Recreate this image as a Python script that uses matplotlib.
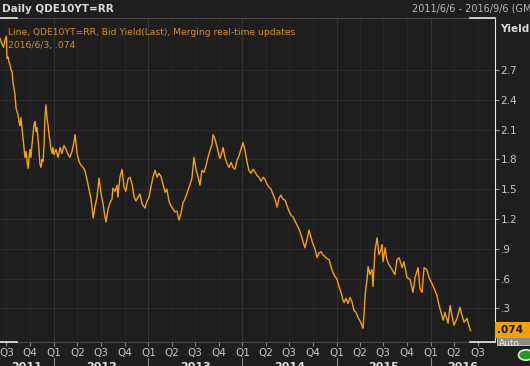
import matplotlib
matplotlib.use("Agg")
import matplotlib.pyplot as plt
import matplotlib.transforms as mtransforms
from matplotlib.patches import Rectangle, Circle
from matplotlib.lines import Line2D
import pandas as pd

# values (German 10y bid yield, daily chart)
dates = [
    "2011-06-06", "2011-06-14", "2011-06-20", "2011-06-25", "2011-07-01", "2011-07-03",
    "2011-07-07", "2011-07-11", "2011-07-15", "2011-07-19", "2011-07-23", "2011-07-26",
    "2011-07-30", "2011-08-03", "2011-08-07", "2011-08-11", "2011-08-15", "2011-08-19",
    "2011-08-23", "2011-08-26", "2011-08-30", "2011-09-03", "2011-09-07", "2011-09-11",
    "2011-09-15", "2011-09-19", "2011-09-23", "2011-09-26", "2011-09-30", "2011-10-04",
    "2011-10-08", "2011-10-12", "2011-10-16", "2011-10-20", "2011-10-24", "2011-10-27",
    "2011-10-31", "2011-11-04", "2011-11-08", "2011-11-12", "2011-11-16", "2011-11-20",
    "2011-11-24", "2011-11-27", "2011-12-01", "2011-12-05", "2011-12-09", "2011-12-13",
    "2011-12-17", "2011-12-21", "2011-12-25", "2011-12-28", "2012-01-01",
    "2012-01-09", "2012-01-17", "2012-01-25", "2012-02-01", "2012-02-09", "2012-02-17",
    "2012-02-25", "2012-03-03", "2012-03-11", "2012-03-19", "2012-03-23", "2012-03-31",
    "2012-04-07", "2012-04-15", "2012-04-23", "2012-05-01", "2012-05-08", "2012-05-16",
    "2012-05-24", "2012-06-01", "2012-06-08", "2012-06-16", "2012-06-24", "2012-07-02",
    "2012-07-09", "2012-07-17", "2012-07-21", "2012-07-29", "2012-08-05", "2012-08-13",
    "2012-08-17", "2012-08-25", "2012-09-02", "2012-09-05", "2012-09-13", "2012-09-21",
    "2012-09-29", "2012-10-06", "2012-10-14", "2012-10-22", "2012-10-30", "2012-11-07",
    "2012-11-14", "2012-11-22", "2012-11-30", "2012-12-08", "2012-12-19", "2012-12-27",
    "2013-01-04", "2013-01-11", "2013-01-19", "2013-01-27", "2013-02-04", "2013-02-11",
    "2013-02-19", "2013-02-27", "2013-03-07", "2013-03-14", "2013-03-22", "2013-03-30",
    "2013-04-07", "2013-04-14", "2013-04-22", "2013-04-30", "2013-05-08", "2013-05-15",
    "2013-05-23", "2013-06-04", "2013-06-12", "2013-06-19", "2013-06-27", "2013-07-05",
    "2013-07-13", "2013-07-20", "2013-07-28", "2013-08-05", "2013-08-13", "2013-08-20",
    "2013-08-28", "2013-09-05", "2013-09-09", "2013-09-17", "2013-09-24", "2013-10-02",
    "2013-10-06", "2013-10-14", "2013-10-18", "2013-10-25", "2013-11-02", "2013-11-10",
    "2013-11-18", "2013-11-25", "2013-12-03", "2013-12-11", "2013-12-19", "2013-12-26",
    "2014-01-03", "2014-01-11", "2014-01-19", "2014-01-26", "2014-02-03", "2014-02-11",
    "2014-02-19", "2014-02-26", "2014-03-06", "2014-03-14", "2014-03-22", "2014-03-29",
    "2014-04-06", "2014-04-14", "2014-04-22", "2014-04-29", "2014-05-07", "2014-05-15",
    "2014-05-23", "2014-05-30", "2014-06-07", "2014-06-15", "2014-06-23", "2014-06-30",
    "2014-07-08", "2014-07-16", "2014-07-24", "2014-07-31", "2014-08-08", "2014-08-16",
    "2014-08-24", "2014-08-31", "2014-09-08", "2014-09-16", "2014-09-24", "2014-10-01",
    "2014-10-09", "2014-10-17", "2014-10-25", "2014-11-02", "2014-11-09", "2014-11-17",
    "2014-11-25", "2014-12-03", "2014-12-10", "2014-12-18", "2014-12-26",
    "2015-01-03", "2015-01-10", "2015-01-18", "2015-01-26", "2015-01-30", "2015-02-06",
    "2015-02-14", "2015-02-22", "2015-03-02", "2015-03-09", "2015-03-17", "2015-03-25",
    "2015-04-02", "2015-04-09", "2015-04-13", "2015-04-17", "2015-04-21", "2015-04-25",
    "2015-04-29", "2015-05-03", "2015-05-10", "2015-05-18", "2015-05-22", "2015-05-30",
    "2015-06-07", "2015-06-14", "2015-06-22", "2015-06-26", "2015-06-30", "2015-07-08",
    "2015-07-15", "2015-07-23", "2015-07-31", "2015-08-08", "2015-08-15", "2015-08-23",
    "2015-08-31", "2015-09-12", "2015-09-19", "2015-10-01", "2015-10-13", "2015-10-24",
    "2015-11-01", "2015-11-13", "2015-11-20", "2015-11-28", "2015-12-06", "2015-12-17",
    "2015-12-25",
    "2016-01-02", "2016-01-14", "2016-01-25", "2016-02-02", "2016-02-10", "2016-02-14",
    "2016-02-18", "2016-02-25", "2016-03-08", "2016-03-16", "2016-03-23", "2016-03-31",
    "2016-04-12", "2016-04-23", "2016-05-01", "2016-05-09", "2016-05-21", "2016-05-24",
    "2016-06-03",
]
yields = [
    3.02, 2.96, 2.93, 3.00, 3.04, 2.82,
    2.83, 2.78, 2.75, 2.70, 2.68, 2.58,
    2.52, 2.45, 2.32, 2.28, 2.25, 2.17,
    2.14, 2.22, 2.12, 2.02, 1.92, 1.82,
    1.88, 1.78, 1.71, 1.80, 1.90, 1.82,
    1.95, 2.05, 2.15, 2.18, 2.08, 2.12,
    2.02, 1.90, 1.75, 1.72, 1.80, 1.78,
    1.95, 2.20, 2.35, 2.22, 2.15, 2.05,
    1.98, 1.90, 1.86, 1.92, 1.85,
    1.90, 1.82, 1.92, 1.86, 1.94, 1.90,
    1.85, 1.82, 1.88, 1.98, 2.05, 1.86,
    1.78, 1.74, 1.72, 1.68, 1.60, 1.50,
    1.40, 1.21, 1.32, 1.42, 1.61, 1.45,
    1.36, 1.22, 1.17, 1.30, 1.36, 1.40,
    1.51, 1.48, 1.54, 1.42, 1.62, 1.70,
    1.52, 1.48, 1.60, 1.62, 1.55, 1.42,
    1.38, 1.42, 1.45, 1.35, 1.31, 1.38,
    1.42, 1.52, 1.62, 1.69, 1.62, 1.66,
    1.63, 1.55, 1.47, 1.50, 1.38, 1.33,
    1.30, 1.27, 1.28, 1.19, 1.26, 1.36,
    1.40, 1.49, 1.55, 1.61, 1.82, 1.70,
    1.62, 1.54, 1.69, 1.67, 1.74, 1.82,
    1.89, 1.95, 2.05, 2.00, 1.93, 1.84,
    1.81, 1.88, 1.92, 1.82, 1.76, 1.72,
    1.77, 1.72, 1.70, 1.79, 1.84, 1.90,
    1.97, 1.89, 1.77, 1.69, 1.66, 1.70,
    1.67, 1.64, 1.62, 1.58, 1.62, 1.60,
    1.55, 1.52, 1.50, 1.45, 1.40, 1.32,
    1.41, 1.44, 1.40, 1.39, 1.33, 1.28,
    1.24, 1.22, 1.18, 1.14, 1.10, 1.04,
    0.97, 0.91, 0.99, 1.09, 1.01, 0.95,
    0.90, 0.81, 0.86, 0.87, 0.84, 0.82,
    0.80, 0.79, 0.72, 0.66, 0.62,
    0.59, 0.52, 0.46, 0.38, 0.36, 0.40,
    0.35, 0.41, 0.36, 0.28, 0.26, 0.21,
    0.17, 0.13, 0.10, 0.23, 0.41, 0.52,
    0.59, 0.72, 0.64, 0.69, 0.52, 0.89,
    1.01, 0.84, 0.89, 0.94, 0.77, 0.91,
    0.79, 0.74, 0.71, 0.67, 0.64, 0.79,
    0.81, 0.71, 0.77, 0.61, 0.59, 0.46,
    0.61, 0.71, 0.50, 0.46, 0.71, 0.69,
    0.61,
    0.57, 0.50, 0.43, 0.33, 0.26, 0.22,
    0.18, 0.26, 0.15, 0.33, 0.23, 0.13,
    0.20, 0.31, 0.23, 0.16, 0.20, 0.16,
    0.074,
]

y_ticks = [0.3, 0.6, 0.9, 1.2, 1.5, 1.8, 2.1, 2.4, 2.7]
y_tick_labels = [".3", ".6", ".9", "1.2", "1.5", "1.8", "2.1", "2.4", "2.7"]
years = [2011, 2012, 2013, 2014, 2015, 2016]
start, end = pd.Timestamp("2011-06-06"), pd.Timestamp("2016-09-06")
last_label = ".074"

bg = "#1e1e1e"
orange = "#f5a10f"
txt = "#c8c8c8"

x = pd.to_datetime(dates)

fig = plt.figure(figsize=(5.3, 3.66), dpi=100, facecolor=bg)
ax = fig.add_axes([0, 18 / 366 * 0 + 24 / 366, 495 / 530, 324 / 366])
ax.set_position([0, 1 - 342 / 366, 495 / 530, 324 / 366])
ax.set_facecolor(bg)

# grid
quarters = pd.date_range("2011-07-01", "2016-07-01", freq="QS")
for q in quarters:
    ax.axvline(q, color="#333333" if q.month == 1 else "#262626", lw=0.8, zorder=0)
for v in y_ticks:
    ax.axhline(v, color="#2b2b2b", lw=0.8, zorder=0)

ax.plot(x, yields, color=orange, lw=1.0, zorder=3)

ax.set_xlim(start, end)
ax.set_ylim(-0.039, 3.224)

ax.yaxis.tick_right()
ax.set_yticks(y_ticks)
ax.set_yticklabels(y_tick_labels)
ax.tick_params(axis="y", colors="#9a9a9a", labelcolor=txt, length=3, pad=1, labelsize=7.5)
ax.set_xticks(quarters)
ax.set_xticklabels([f"Q{q.quarter}" for q in quarters])
ax.tick_params(axis="x", colors="#8a8a8a", labelcolor=txt, length=3, pad=1.5, labelsize=7.5)

for side in ["left"]:
    ax.spines[side].set_visible(False)
ax.spines["top"].set_color("#4a4a4a")
ax.spines["bottom"].set_color("#4a4a4a")
ax.spines["right"].set_color("#e8e8e8")

# white scroll marks on frame
for yf in [1 - 17.5 / 366, 1 - 342 / 366]:
    fig.add_artist(Line2D([0, 17 / 530], [yf, yf], color="#e8e8e8", lw=1.2))
    fig.add_artist(Line2D([470 / 530, 495 / 530], [yf, yf], color="#e8e8e8", lw=1.2))

# year labels + separators
tr = mtransforms.blended_transform_factory(ax.transData, fig.transFigure)
for yr in years:
    a = max(pd.Timestamp(f"{yr}-01-01"), start)
    b = min(pd.Timestamp(f"{yr + 1}-01-01"), end)
    mid = a + (b - a) / 2
    ax.text(mid, 1 - 362 / 366, str(yr), transform=tr, ha="center", va="top",
            color="#e0e0e0", fontsize=8, fontweight="bold", clip_on=False)
    if yr > 2011:
        ax.add_artist(Line2D([a, a], [0, 1 - 358 / 366], transform=tr, color="#8a8a8a",
                             lw=0.8, clip_on=False))

# legend text
ax.text(0.016, 0.955, "Line, QDE10YT=RR, Bid Yield(Last), Merging real-time updates",
        transform=ax.transAxes, color="#d8901a", fontsize=6.6, va="center")
ax.text(0.016, 0.915, "2016/6/3, .074", transform=ax.transAxes, color="#d8901a",
        fontsize=6.6, va="center")

# header
fig.text(2 / 530, 1 - 8.5 / 366, "Daily QDE10YT=RR", color="#d8d8d8", fontsize=7.5,
         fontweight="bold", va="center")
fig.text(412 / 530, 1 - 8.5 / 366, "2011/6/6 - 2016/9/6 (GMT)", color="#b8b8b8",
         fontsize=7, va="center")
fig.text(500 / 530, 1 - 29 / 366, "Yield", color="#d8d8d8", fontsize=7.5,
         fontweight="bold", va="center")

# last value tag
fig.add_artist(Rectangle((497 / 530, 1 - 345 / 366), 33 / 530, 8 / 366,
                         facecolor="#8c8c8c", edgecolor="#cfcfcf", lw=0.6))
fig.text(499 / 530, 1 - 343 / 366, "Auto", color="#e8e8e8", fontsize=6.5, va="center")
fig.add_artist(Rectangle((495 / 530, 1 - 338 / 366), 35 / 530, 16 / 366,
                         facecolor="#f5a000", edgecolor="none"))
fig.text(497 / 530, 1 - 330 / 366, last_label, color="#111111", fontsize=7.5,
         fontweight="bold", va="center")
fig.add_artist(Circle((526 / 530, 1 - 355 / 366), 7.5 / 530, facecolor="#1aa31a",
                      edgecolor="#e8e8e8", lw=1.2, transform=fig.transFigure))

fig.savefig("out.png", dpi=100, facecolor=bg)
